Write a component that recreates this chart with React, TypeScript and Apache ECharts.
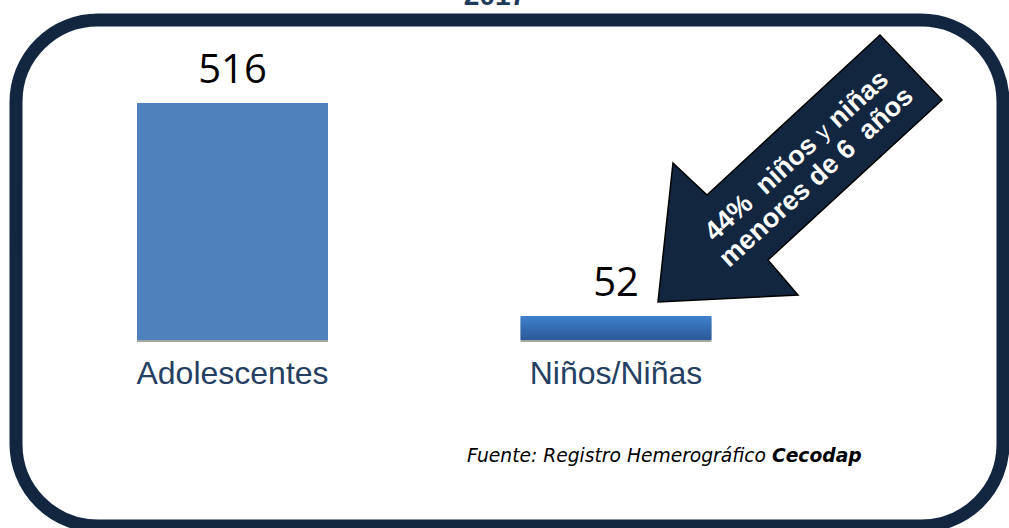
import React, { useEffect, useRef } from "react";
import * as echarts from "echarts";

const categories = ["Adolescentes", "Niños/Niñas"];
const values = [516, 52];
const titleText = "2017";
const arrowLine1 = ["44%  niños ", "y", " niñas"];
const arrowLine2 = "menores de 6  años";
const sourceText = "Fuente: Registro Hemerográfico ";
const sourceBold = "Cecodap";

export default function App() {
  const ref = useRef<HTMLDivElement>(null);
  useEffect(() => {
    if (!ref.current) return;
    const chart = echarts.init(ref.current, undefined, { renderer: "svg" });
    const navy = "#12263f";
    chart.setOption({
      animation: false,
      backgroundColor: "#ffffff",
      grid: { left: 40.75, right: 201.25, top: 103, bottom: 188 },
      xAxis: {
        type: "category",
        data: categories,
        axisLine: { show: false },
        axisTick: { show: false },
        axisLabel: {
          fontFamily: "Liberation Sans",
          fontSize: 32,
          color: "#253f63",
          margin: 17,
        },
      },
      yAxis: {
        type: "value",
        min: 0,
        max: "dataMax",
        show: false,
        splitLine: { show: false },
      },
      series: [
        {
          type: "bar",
          barWidth: 191,
          data: values.map((v, i) => ({
            value: v,
            itemStyle:
              i === 0
                ? { color: "#4f81bd" }
                : {
                    color: new echarts.graphic.LinearGradient(0, 0, 0, 1, [
                      { offset: 0, color: "#3e80cc" },
                      { offset: 1, color: "#2b5a98" },
                    ]),
                  },
          })),
          itemStyle: {
            shadowColor: "rgba(0,0,0,0.35)",
            shadowOffsetY: 2,
            shadowBlur: 0,
          },
          label: {
            show: true,
            position: "top",
            distance: 16,
            fontFamily: "Open Sans",
            fontSize: 40,
            color: "#000000",
          },
        },
      ],
      graphic: [
        {
          type: "rect",
          shape: { x: 16, y: 20, width: 987, height: 506, r: 82 },
          style: { fill: "none", stroke: navy, lineWidth: 13 },
          silent: true,
        },
        {
          type: "text",
          x: 495,
          y: 9,
          style: {
            text: titleText,
            fontFamily: "Liberation Sans",
            fontWeight: "bold",
            fontSize: 28,
            fill: "#1f3b5c",
            align: "center",
            verticalAlign: "bottom",
          },
        },
        {
          type: "polygon",
          shape: {
            points: [
              [658, 302],
              [673, 163],
              [707, 195],
              [880, 35],
              [942, 100],
              [768, 260],
              [798, 295],
            ],
          },
          style: { fill: navy, stroke: "#000000", lineWidth: 1.5 },
        },
        {
          type: "text",
          x: 806,
          y: 166,
          rotation: 0.74,
          style: {
            text:
              "{b|" + arrowLine1[0] + "}{n|" + arrowLine1[1] + "}{b|" + arrowLine1[2] + "}\n{b|" + arrowLine2 + "}",
            align: "center",
            verticalAlign: "middle",
            fill: "#ffffff",
            rich: {
              b: {
                fontFamily: "Liberation Sans",
                fontWeight: "bold",
                fontSize: 27,
                lineHeight: 29,
                fill: "#ffffff",
                color: "#ffffff",
              },
              n: {
                fontFamily: "Liberation Sans",
                fontWeight: "normal",
                fontSize: 23,
                lineHeight: 29,
                fill: "#ffffff",
                color: "#ffffff",
              },
            },
          },
        },
        {
          type: "text",
          x: 467,
          y: 455,
          style: {
            text: "{i|" + sourceText + "}{b|" + sourceBold + "}",
            align: "left",
            verticalAlign: "middle",
            rich: {
              i: {
                fontFamily: "DejaVu Sans",
                fontStyle: "italic",
                fontSize: 18.7,
                fill: "#000000",
                color: "#000000",
              },
              b: {
                fontFamily: "DejaVu Sans",
                fontStyle: "italic",
                fontWeight: "bold",
                fontSize: 18.7,
                fill: "#000000",
                color: "#000000",
              },
            },
          },
        },
      ],
    });
    return () => chart.dispose();
  }, []);
  return (
    <div
      ref={ref}
      style={{ position: "absolute", left: 0, top: 0, width: 1009, height: 528 }}
    />
  );
}
